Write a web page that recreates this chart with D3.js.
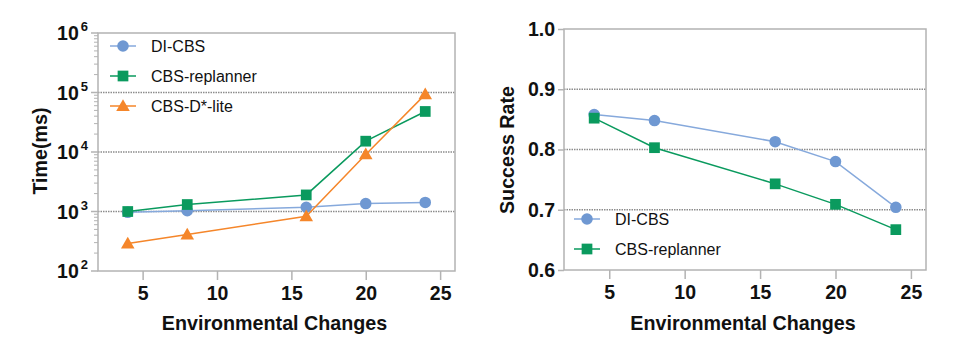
<!DOCTYPE html>
<html><head><meta charset="utf-8">
<script src="https://cdn.jsdelivr.net/npm/d3@7"></script>
<style>body{margin:0;background:#fff}svg{display:block}text{font-family:"Liberation Sans",Arial,sans-serif}</style>
</head><body>
<svg id="c" width="964" height="343"></svg>
<script>
const xs = [4, 8, 16, 20, 24];
const timeDICBS = [970, 1030, 1180, 1360, 1420];
const timeReplanner = [1000, 1310, 1900, 15200, 48000];
const timeDStarLite = [290, 410, 830, 9100, 93000];
const successDICBS = [0.858, 0.848, 0.813, 0.780, 0.704];
const successReplanner = [0.852, 0.803, 0.743, 0.709, 0.667];
const xTicks = [5, 10, 15, 20, 25];
const timeTicks = [2, 3, 4, 5, 6];
const successTicks = [0.6, 0.7, 0.8, 0.9, 1.0];
const xLabel = "Environmental Changes";

const colors = {blue: "#6f98d2", blueLine: "#86a9dc", green: "#0a9a5e", orange: "#f5862a"};
const svg = d3.select("#c");
const frame = "#b3b3b3";

function sym(shape) {
  return shape === "circle" ? d3.symbolCircle : shape === "square" ? d3.symbolSquare : d3.symbolTriangle;
}

function panel(o) {
  const g = svg.append("g");
  const x = d3.scaleLinear().domain([2, 26]).range([o.x0, o.x1]);
  const y = o.y;
  g.selectAll(".grid").data(o.grid).join("line")
    .attr("x1", o.x0).attr("x2", o.x1)
    .attr("y1", d => y(d)).attr("y2", d => y(d))
    .attr("stroke", "#8c8c8c").attr("stroke-width", 1.5).attr("stroke-dasharray", "1.5,1");
  g.append("rect").attr("x", o.x0).attr("y", o.y1).attr("width", o.x1 - o.x0).attr("height", o.y0 - o.y1)
    .attr("fill", "none").attr("stroke", frame).attr("stroke-width", 1.5);
  const xa = g.append("g").attr("transform", `translate(0,${o.y0})`)
    .call(d3.axisBottom(x).tickValues(xTicks).tickSize(9).tickPadding(6).tickFormat(d3.format("d")));
  xa.select(".domain").remove();
  xa.selectAll("line").attr("stroke", frame).attr("stroke-width", 1.5);
  xa.selectAll("text").attr("font-size", 19.5).attr("font-weight", "bold").attr("fill", "#111");
  o.yAxis(g);
  g.append("text").attr("x", (o.x0 + o.x1) / 2 - 2).attr("y", 330).attr("text-anchor", "middle")
    .attr("font-size", 19.7).attr("font-weight", "bold").attr("fill", "#111").text(xLabel);
  g.append("text").attr("transform", `translate(${o.ylx},${o.yly}) rotate(-90)`).attr("text-anchor", "middle")
    .attr("font-size", 19.7).attr("font-weight", "bold").attr("fill", "#111").text(o.yTitle);
  o.series.forEach(s => {
    g.append("path").datum(s.values)
      .attr("d", d3.line().x((d, i) => x(xs[i])).y(d => y(d)))
      .attr("fill", "none").attr("stroke", s.line || s.color).attr("stroke-width", 1.5);
    g.selectAll(null).data(s.values).join("path")
      .attr("transform", (d, i) => `translate(${x(xs[i])},${y(d) + (s.shape === "tri" ? 1 : 0)})`)
      .attr("d", d3.symbol().type(sym(s.shape)).size(s.size))
      .attr("fill", s.color);
  });
  o.series.forEach((s, i) => {
    const ly = o.ly + i * o.lstep;
    g.append("line").attr("x1", o.lx).attr("x2", o.lx + 26).attr("y1", ly).attr("y2", ly)
      .attr("stroke", s.line || s.color).attr("stroke-width", 1.5);
    g.append("path").attr("transform", `translate(${o.lx + 13},${ly + (s.shape === "tri" ? 1 : 0)})`)
      .attr("d", d3.symbol().type(sym(s.shape)).size(s.size))
      .attr("fill", s.color);
    g.append("text").attr("x", o.lx + 41).attr("y", ly).attr("dy", "0.36em")
      .attr("font-size", 16).attr("fill", "#111").text(s.name);
  });
}

const yT = d3.scaleLog().domain([1e2, 1e6]).range([271, 33]);
panel({
  x0: 98, x1: 455, y0: 271, y1: 33, y: yT, grid: [1e3, 1e4, 1e5],
  ylx: 47, yly: 151, yTitle: "Time(ms)", lx: 110, ly: 46, lstep: 30,
  series: [
    {name: "DI-CBS", values: timeDICBS, color: colors.blue, line: colors.blueLine, shape: "circle", size: 105},
    {name: "CBS-replanner", values: timeReplanner, color: colors.green, shape: "square", size: 115},
    {name: "CBS-D*-lite", values: timeDStarLite, color: colors.orange, shape: "tri", size: 80}
  ],
  yAxis: g => {
    const minors = [];
    for (let e = 2; e < 6; e++) for (let m = 2; m <= 9; m++) minors.push(m * Math.pow(10, e));
    g.selectAll(".mn").data(minors).join("line")
      .attr("x1", 94).attr("x2", 98).attr("y1", d => yT(d)).attr("y2", d => yT(d))
      .attr("stroke", frame).attr("stroke-width", 1);
    const t = g.selectAll(".yt").data(timeTicks).join("g").attr("transform", d => `translate(0,${yT(Math.pow(10, d))})`);
    t.append("line").attr("x1", 91).attr("x2", 98).attr("stroke", frame).attr("stroke-width", 1.5);
    const tx = t.append("text").attr("x", 88).attr("y", 7).attr("text-anchor", "end")
      .attr("font-size", 19.5).attr("font-weight", "bold").attr("fill", "#111");
    tx.append("tspan").text("10");
    tx.append("tspan").attr("dx", 2).attr("dy", -9).attr("font-size", 13).text(d => d);
  }
});

const yS = d3.scaleLinear().domain([0.6, 1.0]).range([270, 29]);
panel({
  x0: 564, x1: 926, y0: 270, y1: 29, y: yS, grid: [0.7, 0.8, 0.9],
  ylx: 514, yly: 150, yTitle: "Success Rate", lx: 574, ly: 219, lstep: 30,
  series: [
    {name: "DI-CBS", values: successDICBS, color: colors.blue, line: colors.blueLine, shape: "circle", size: 105},
    {name: "CBS-replanner", values: successReplanner, color: colors.green, shape: "square", size: 115}
  ],
  yAxis: g => {
    const ya = g.append("g").attr("transform", "translate(564,0)")
      .call(d3.axisLeft(yS).tickValues(successTicks).tickSize(6).tickPadding(3).tickFormat(d3.format(".1f")));
    ya.select(".domain").remove();
    ya.selectAll("line").attr("stroke", frame).attr("stroke-width", 1.5);
    ya.selectAll("text").attr("font-size", 19.5).attr("font-weight", "bold").attr("fill", "#111");
  }
});
</script>
</body></html>
